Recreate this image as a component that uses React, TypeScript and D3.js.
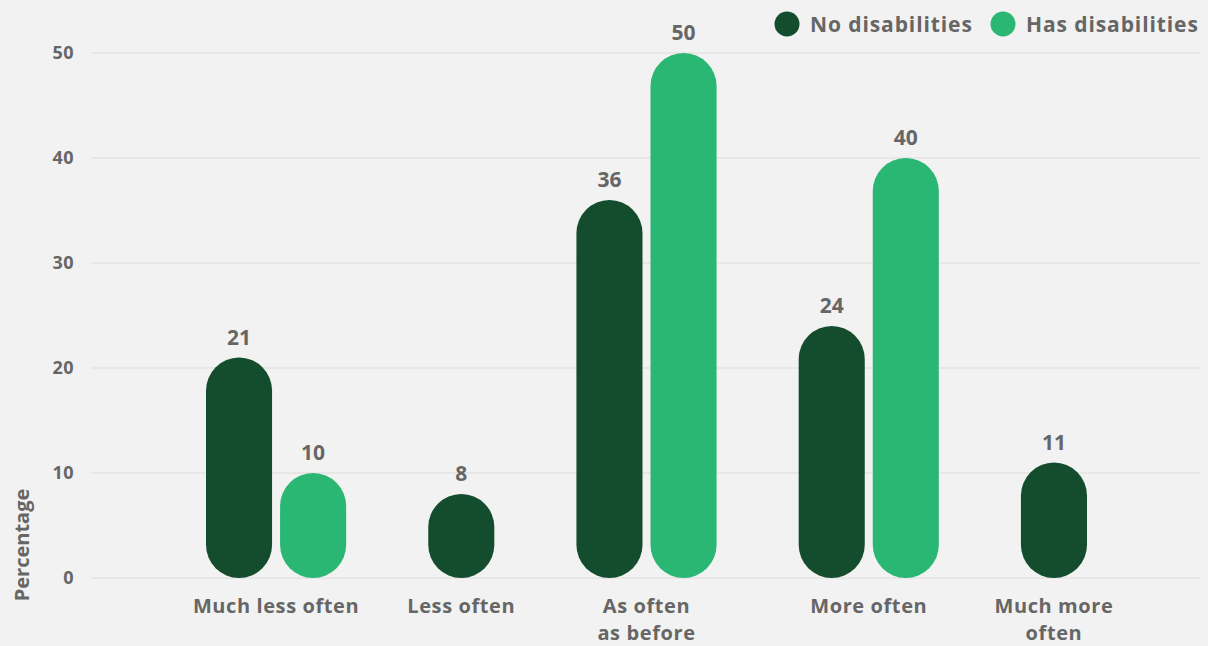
import React from "react";
import * as d3 from "d3";

const categories = [["Much less often"], ["Less often"], ["As often", "as before"], ["More often"], ["Much more", "often"]];
const seriesNames = ["No disabilities", "Has disabilities"];
const noDisabilities: (number | null)[] = [21, 8, 36, 24, 11];
const hasDisabilities: (number | null)[] = [10, null, 50, 40, null];
const yTicks = [0, 10, 20, 30, 40, 50];
const colors = ["#134d2d", "#2ab673"];

const W = 1208, H = 646;
const BAR_W = 66, INNER = 8, OUTER = 82;
const FONT = "'Open Sans', sans-serif";
const TEXT = "#666666";

export default function App() {
  const y = d3.scaleLinear().domain([0, 50]).range([578, 53]);
  const groups = categories.map((c, i) => {
    const vals = [noDisabilities[i], hasDisabilities[i]]
      .map((v, s) => ({ v, s }))
      .filter((d) => d.v !== null) as { v: number; s: number }[];
    return { c, vals };
  });
  const widths = groups.map((g) => g.vals.length * BAR_W + (g.vals.length - 1) * INNER);
  const total = d3.sum(widths) + OUTER * (groups.length - 1);
  const x = d3.scaleLinear().domain([0, total]).range([206, 1087]);
  let cursor = 0;
  const laid = groups.map((g, i) => {
    const start = cursor;
    cursor += widths[i] + OUTER;
    const bars = g.vals.map((d, k) => ({ ...d, x0: x(start + k * (BAR_W + INNER)), x1: x(start + k * (BAR_W + INNER) + BAR_W) }));
    return { ...g, center: x(start + widths[i] / 2), bars };
  });

  return (
    <svg width={W} height={H} style={{ position: "absolute", left: 0, top: 0, background: "#f2f2f2" }} fontFamily={FONT}>
      <rect x={0} y={0} width={W} height={H} fill="#f2f2f2" />
      {yTicks.map((t) => (
        <g key={t}>
          <line x1={91} x2={1200} y1={y(t)} y2={y(t)} stroke="#e3e3e3" strokeWidth={1.5} />
          <text x={74} y={y(t) + 6} textAnchor="end" fontSize={18} fontWeight={700} letterSpacing={0.5} fill={TEXT}>{t}</text>
        </g>
      ))}
      <text transform={`translate(29,545) rotate(-90)`} textAnchor="middle" fontSize={20} fontWeight={700} fill={TEXT}>Percentage</text>
      {laid.map((g, i) => (
        <g key={i}>
          {g.bars.map((b) => {
            const w = b.x1 - b.x0;
            const top = y(b.v);
            const h = y(0) - top;
            return (
              <g key={b.s}>
                <rect x={b.x0} y={top} width={w} height={h} rx={w / 2} ry={Math.min(w / 2, h / 2)} fill={colors[b.s]} />
                <text x={(b.x0 + b.x1) / 2} y={top - 13} textAnchor="middle" fontSize={21} fontWeight={700} fill={TEXT}>{b.v}</text>
              </g>
            );
          })}
          {g.c.map((line, k) => (
            <text key={k} x={g.center} y={613 + k * 27} textAnchor="middle" fontSize={20} fontWeight={700} letterSpacing={0.6} fill={TEXT}>{line}</text>
          ))}
        </g>
      ))}
      {seriesNames.map((n, i) => {
        const cx = [787, 1003][i];
        return (
          <g key={n}>
            <circle cx={cx} cy={24} r={12.5} fill={colors[i]} />
            <text x={cx + 23} y={31.5} fontSize={21} fontWeight={700} letterSpacing={0.9} fill={TEXT}>{n}</text>
          </g>
        );
      })}
    </svg>
  );
}
